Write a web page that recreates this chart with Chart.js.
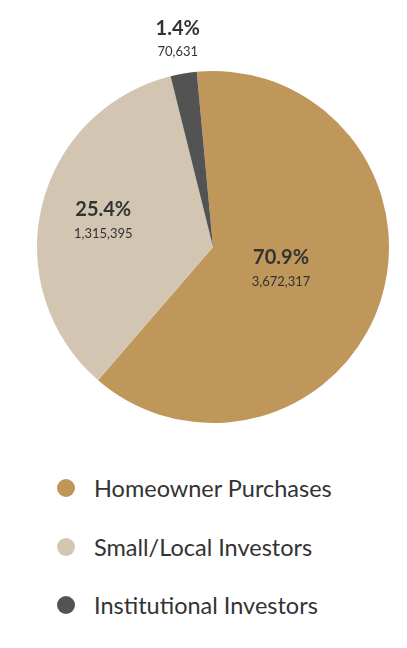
<!DOCTYPE html>
<html>
<head>
<meta charset="utf-8">
<script src="https://cdn.jsdelivr.net/npm/chart.js@4/dist/chart.umd.min.js"></script>
<style>
  body { margin: 0; background: #fff; font-family: Lato, sans-serif; }
  #wrap { position: absolute; left: 0; top: 0; width: 407px; height: 440px; }
  #legend { position: absolute; left: 57px; top: 459px; margin: 0; padding: 0; list-style: none; }
  #legend li { height: 58.5px; display: flex; align-items: center; color: #333; font-size: 23.5px; }
  #legend span.dot { width: 18px; height: 18px; border-radius: 50%; display: inline-block; margin-right: 19px; }
</style>
</head>
<body>
<div id="wrap"><canvas id="pie"></canvas></div>
<ul id="legend"></ul>
<script>
const categories = ["Homeowner Purchases", "Small/Local Investors", "Institutional Investors"];
const shares = [62.8, 34.8, 2.4];
// label text printed on the chart
const pctLabels = ["70.9%", "25.4%", "1.4%"];
const countLabels = ["3,672,317", "1,315,395", "70,631"];

const colors = ["#C0975B", "#D2C6B2", "#535353"];
const labelRadius = [0.406, 0.641, 1.198];

const sliceLabels = {
  id: "sliceLabels",
  afterDatasetsDraw(chart) {
    const ctx = chart.ctx;
    const meta = chart.getDatasetMeta(0);
    meta.data.forEach((arc, i) => {
      const mid = (arc.startAngle + arc.endAngle) / 2;
      const r = arc.outerRadius * labelRadius[i];
      const x = arc.x + Math.cos(mid) * r;
      const y = arc.y + Math.sin(mid) * r;
      ctx.save();
      ctx.fillStyle = "#333";
      ctx.textAlign = "center";
      ctx.textBaseline = "middle";
      ctx.font = "bold 20px Lato";
      ctx.fillText(pctLabels[i], x, y - 11);
      ctx.font = "13px Lato";
      ctx.fillText(countLabels[i], x, y + 13);
      ctx.restore();
    });
  }
};

new Chart(document.getElementById("pie"), {
  type: "pie",
  data: {
    labels: categories,
    datasets: [{
      data: shares,
      backgroundColor: colors,
      borderWidth: 0
    }]
  },
  options: {
    responsive: true,
    maintainAspectRatio: false,
    animation: false,
    rotation: -5.3,
    layout: { padding: { left: 37, right: 18, top: 71, bottom: 17 } },
    plugins: {
      legend: { display: false },
      tooltip: { enabled: false }
    }
  },
  plugins: [sliceLabels]
});

const legend = document.getElementById("legend");
categories.forEach((c, i) => {
  const li = document.createElement("li");
  li.innerHTML = '<span class="dot" style="background:' + colors[i] + '"></span>' + c;
  legend.appendChild(li);
});
</script>
</body>
</html>
